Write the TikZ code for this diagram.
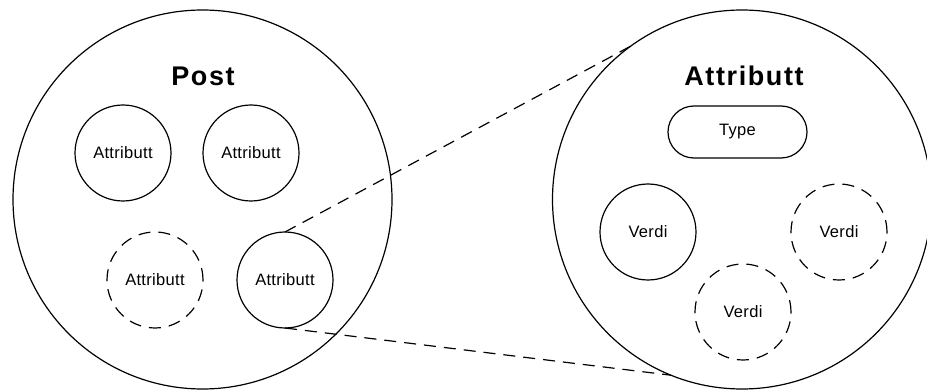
\documentclass[tikz,border=0pt]{standalone}
\usepackage{fontspec}
\setmainfont{Liberation Sans}
\newfontfamily\labelfont[LetterSpace=2]{Liberation Sans}
\newfontfamily\titlefont[LetterSpace=6]{Liberation Sans Bold}
\begin{document}
\begin{tikzpicture}[x=1pt,y=-1pt,
  line width=1.2pt,
  outline/.style={draw, circle, inner sep=0pt, outer sep=0pt},
  bigring/.style={outline, minimum size=379pt},
  smallring/.style={outline, minimum size=96pt, font=\labelfont\fontsize{16.5}{18}\selectfont},
  optional/.style={dash pattern=on 12pt off 8pt},
  title/.style={font=\titlefont\fontsize{27}{30}\selectfont, inner sep=0pt},
  pill/.style={draw, rounded corners=26pt, minimum width=139pt, minimum height=52pt,
    inner sep=0pt, outer sep=0pt, font=\labelfont\fontsize{16.5}{18}\selectfont},
  link/.style={optional, line width=1.2pt}]
\useasboundingbox (0,0) rectangle (927,390);

% record circle with its attributes
\node[bigring] (post) at (202.5,199.5) {};
\node[title] (posttitle) at (203,76) {Post};
\node[smallring] (a1) at (123,153) {Attributt};
\node[smallring] (a2) at (251,153) {Attributt};
\node[smallring, optional] (a3) at (155,280) {Attributt};
\node[smallring] (a4) at (285,280) {Attributt};

% attribute circle, enlarged
\node[bigring] (attr) at (742,199.5) {};
\node[title] (attrtitle) at (744,76) {Attributt};
\node[pill] (type) at (737.5,132) {Type};
\node[smallring] (v1) at (648,232) {Verdi};
\node[smallring, optional] (v2) at (839,232) {Verdi};
\node[smallring, optional] (v3) at (743,312) {Verdi};

% zoom lines
\draw[link] (a4.north) -- (attr.126);
\draw[link] (a4.south) -- (attr.248);
\end{tikzpicture}
\end{document}
